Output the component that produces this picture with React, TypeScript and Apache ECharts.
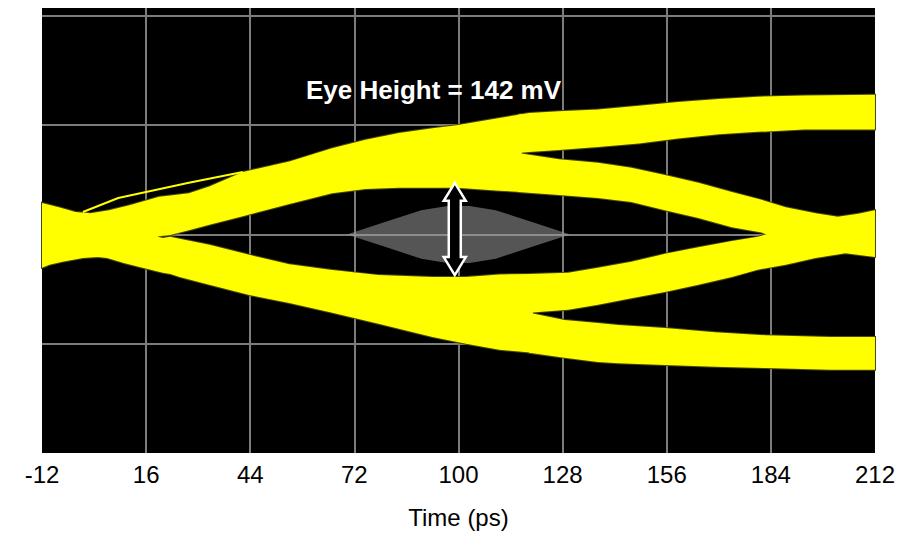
import React, { useEffect, useRef } from "react";
import * as echarts from "echarts";

// x axis: time in ps
const timeMin = -12;
const timeMax = 212;
const timeStep = 28;
// y axis: voltage in mV (no labels shown)
const voltMin = -360;
const voltMax = 373;
const voltStep = 180;

// Each row: [time ps, upper edge mV, lower edge mV]
const upperArc: number[][] = [
  [-12, 52, -25],
  [-7, 44, -25],
  [-3, 37, -25],
  [1, 35, -25],
  [6, 40, -25],
  [11.5, 48, -20],
  [19.5, 62, -3],
  [22.5, 64, -1],
  [27.5, 68, 7],
  [33, 79, 16],
  [42, 103, 30],
  [54.5, 120, 50],
  [66, 142, 68],
  [75, 156, 75],
  [84, 167, 77],
  [93, 175, 77],
  [99.5, 180, 77],
  [111, 192, 72],
  [117, 198, 70],
];

const topRail: number[][] = [
  [116, 197, 134],
  [119, 200, 136],
  [127, 203, 139],
  [137.5, 206, 144],
  [148.5, 212, 150],
  [159, 218, 158],
  [170, 223, 165],
  [180.5, 227, 169],
  [193, 229, 173],
  [212, 230, 173],
];

const fallingToCross: number[][] = [
  [116, 134, 70],
  [127, 124, 65],
  [137.5, 118, 60],
  [146.5, 110, 53.5],
  [155.5, 98, 40],
  [164.5, 85, 27],
  [173.5, 70, 12],
  [181.5, 57, 3],
  [188, 45, -12],
  [196, 35, -12],
  [202, 29, -12],
  [207.5, 34, -12],
  [212, 40, -12],
];

const lowerArc: number[][] = [
  [-12, 5, -55],
  [-10, 5, -50],
  [-6.5, 5, -45],
  [-1, 5, -39],
  [3, 5, -37],
  [5.5, 5, -39],
  [10, 5, -47],
  [14.5, 3, -54],
  [20.5, -6, -63],
  [22.5, -4, -65],
  [25, -7, -70],
  [33, -17, -83],
  [44, -34, -100],
  [54.5, -49, -113],
  [65.5, -58, -128],
  [78.5, -67, -147],
  [93, -70, -169],
  [102, -70, -180],
  [111, -66, -190],
  [120, -65, -195],
];

const risingToCross: number[][] = [
  [119, -65, -129],
  [129.5, -63, -124],
  [137.5, -55, -116],
  [146.5, -45, -105],
  [155.5, -32, -95],
  [164.5, -21, -83],
  [173.5, -11, -70],
  [180.5, -4, -58],
  [188, 10, -50],
  [196, 10, -39],
  [204, 10, -31],
  [212, 10, -37],
];

const bottomRail: number[][] = [
  [119, -129, -195],
  [128.5, -141, -203],
  [137.5, -146, -210],
  [143, -149, -212],
  [155.5, -154, -215],
  [169, -161, -218],
  [182.5, -166, -220],
  [200, -169, -223],
  [212, -169, -223],
];

const bands = [upperArc, topRail, fallingToCross, lowerArc, risingToCross, bottomRail];

// thin stray trace above the rising edge, [time ps, mV]
const strayTrace: number[][] = [
  [-1, 37],
  [8.5, 60],
  [27.5, 85],
  [42, 103],
];

// eye mask outline, [time ps, mV]
const maskOutline: number[][] = [
  [70, 0],
  [80, 20],
  [90, 40],
  [97, 47],
  [103, 47],
  [110, 40],
  [120, 20],
  [130, 0],
  [120, -20],
  [110, -40],
  [103, -47],
  [97, -47],
  [90, -40],
  [80, -20],
];

// eye height measurement: [time ps, top mV, bottom mV]
const eyeArrow: number[][] = [[99, 85, -67]];
const eyeHeightMv = 142;

const FONT = '"Liberation Sans", Arial, Helvetica, sans-serif';

export default function App() {
  const ref = useRef<HTMLDivElement>(null);

  useEffect(() => {
    if (!ref.current) return;
    const chart = echarts.init(ref.current, undefined, { renderer: "svg" });

    const bandPolygon = (params: any, api: any, withStroke: boolean) => {
      const band = bands[params.dataIndex];
      const top = band.map((r) => api.coord([r[0], r[1]]));
      const bot = band.map((r) => api.coord([r[0], r[2]])).reverse();
      return {
        type: "polygon",
        shape: { points: top.concat(bot) },
        style: withStroke
          ? { fill: "#ffff00", stroke: "#4a4a00", lineWidth: 2 }
          : { fill: "#ffff00" },
      };
    };

    const option: any = {
      animation: false,
      backgroundColor: "#ffffff",
      grid: {
        left: 42,
        right: 21,
        top: 8,
        bottom: 83,
        show: true,
        backgroundColor: "#000000",
        borderWidth: 0,
      },
      xAxis: {
        type: "value",
        min: timeMin,
        max: timeMax,
        interval: timeStep,
        name: "Time (ps)",
        nameLocation: "middle",
        nameGap: 52,
        nameTextStyle: { color: "#000", fontSize: 24, fontFamily: FONT },
        axisLine: { show: false },
        axisTick: { show: false },
        axisLabel: { color: "#000", fontSize: 24, fontFamily: FONT, margin: 9 },
        splitLine: {
          show: true,
          showMinLine: false,
          showMaxLine: false,
          lineStyle: { color: "#7c7c7c", width: 2 },
        },
      },
      yAxis: {
        type: "value",
        min: voltMin,
        max: voltMax,
        interval: voltStep,
        axisLine: { show: false },
        axisTick: { show: false },
        axisLabel: { show: false },
        splitLine: {
          show: true,
          showMinLine: false,
          showMaxLine: false,
          lineStyle: { color: "#7c7c7c", width: 2 },
        },
      },
      series: [
        {
          type: "custom",
          name: "mask",
          data: [0],
          z: 2,
          renderItem: (params: any, api: any) => ({
            type: "polygon",
            shape: { points: maskOutline.map((p) => api.coord(p)) },
            style: { fill: "rgba(155,155,155,0.55)" },
          }),
        },
        {
          type: "custom",
          name: "bandOutline",
          data: bands.map((_, i) => i),
          z: 3,
          renderItem: (params: any, api: any) => bandPolygon(params, api, true),
        },
        {
          type: "custom",
          name: "bandFill",
          data: bands.map((_, i) => i),
          z: 4,
          renderItem: (params: any, api: any) => bandPolygon(params, api, false),
        },
        {
          type: "line",
          name: "stray",
          data: strayTrace,
          z: 5,
          symbol: "none",
          lineStyle: { color: "#ffff00", width: 2 },
        },
        {
          type: "custom",
          name: "eyeArrow",
          data: eyeArrow,
          z: 6,
          renderItem: (params: any, api: any) => {
            const p1 = api.coord([api.value(0), api.value(1)]);
            const p2 = api.coord([api.value(0), api.value(2)]);
            const x = p1[0];
            const y1 = p1[1];
            const y2 = p2[1];
            const hl = 18;
            const hw = 11;
            const sw = 6;
            return {
              type: "polygon",
              shape: {
                points: [
                  [x, y1],
                  [x + hw, y1 + hl],
                  [x + sw, y1 + hl],
                  [x + sw, y2 - hl],
                  [x + hw, y2 - hl],
                  [x, y2],
                  [x - hw, y2 - hl],
                  [x - sw, y2 - hl],
                  [x - sw, y1 + hl],
                  [x - hw, y1 + hl],
                ],
              },
              style: { fill: "#000000", stroke: "#ffffff", lineWidth: 2.5 },
            };
          },
        },
      ],
      graphic: [
        {
          type: "text",
          x: 306,
          y: 90,
          z: 10,
          style: {
            text: `Eye Height = ${eyeHeightMv} mV`,
            fill: "#ffffff",
            font: `bold 26px ${FONT}`,
            align: "left",
            verticalAlign: "middle",
          },
        },
      ],
    };

    chart.setOption(option);
    return () => chart.dispose();
  }, []);

  return (
    <div
      ref={ref}
      style={{ position: "fixed", left: 0, top: 0, width: 898, height: 536 }}
    />
  );
}
